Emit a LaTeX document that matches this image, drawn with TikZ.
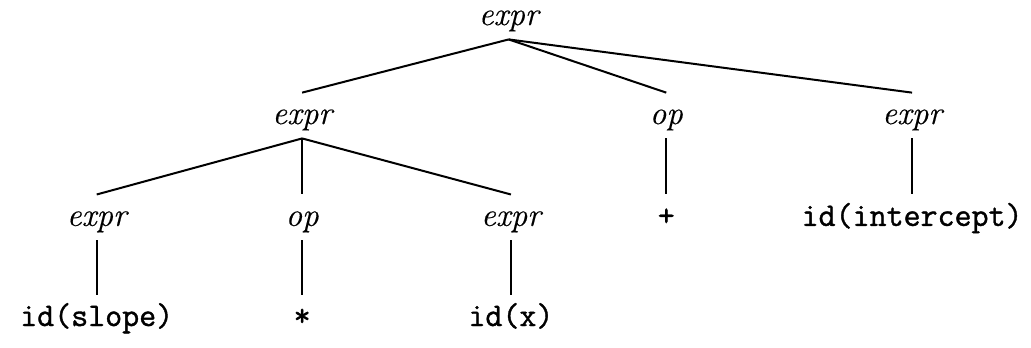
\documentclass[tikz,border=0pt]{standalone}
\usepackage{fontspec}
\usepackage{tikz}

\newfontfamily\tokfont{Latin Modern Mono}[FakeBold=1.2]
\newfontfamily\symfont{Latin Modern Roman}[FakeBold=0.4]

\tikzset{
  sym/.style={font=\fontsize{16.5}{19}\selectfont\symfont\itshape, anchor=base,
    inner xsep=1pt, inner ysep=2pt, text height=13.5pt, text depth=5pt},
  tok/.style={sym, font=\fontsize{16.5}{19}\selectfont\tokfont},
  edge/.style={line width=1pt}
}

\begin{document}
\begin{tikzpicture}[scale=1]

\useasboundingbox (0,0) rectangle (18.12,6.10);

% Root
\node[sym] (root) at (8.94,5.66) {expr};

% First level
\node[sym] (lexpr) at (5.31,3.92) {expr};
\node[sym] (plus) at (11.71,3.92) {op};
\node[sym] (rexpr) at (16.03,3.92) {expr};

% Second level
\node[sym] (slope) at (1.70,2.13) {expr};
\node[sym] (times) at (5.31,2.13) {op};
\node[sym] (xvar) at (8.98,2.13) {expr};
\node[tok] (plustok) at (11.71,2.13) {+};
\node[tok] (icpt) at (16.03,2.13) {id(intercept)};

% Leaves
\node[tok] (slopetok) at (1.70,0.37) {id(slope)};
\node[tok] (timestok) at (5.31,0.37) {*};
\node[tok] (xtok) at (8.98,0.37) {id(x)};

% Edges
\draw[edge] (root.south)--(lexpr.north);
\draw[edge] (root.south)--(plus.north);
\draw[edge] (root.south)--(rexpr.north);
\draw[edge] (lexpr.south)--(slope.north);
\draw[edge] (lexpr.south)--(times.north);
\draw[edge] (lexpr.south)--(xvar.north);
\draw[edge] (plus.south)--(plustok.north);
\draw[edge] (rexpr.south)--(icpt.north);
\draw[edge] (slope.south)--(slopetok.north);
\draw[edge] (times.south)--(timestok.north);
\draw[edge] (xvar.south)--(xtok.north);

\end{tikzpicture}
\end{document}
